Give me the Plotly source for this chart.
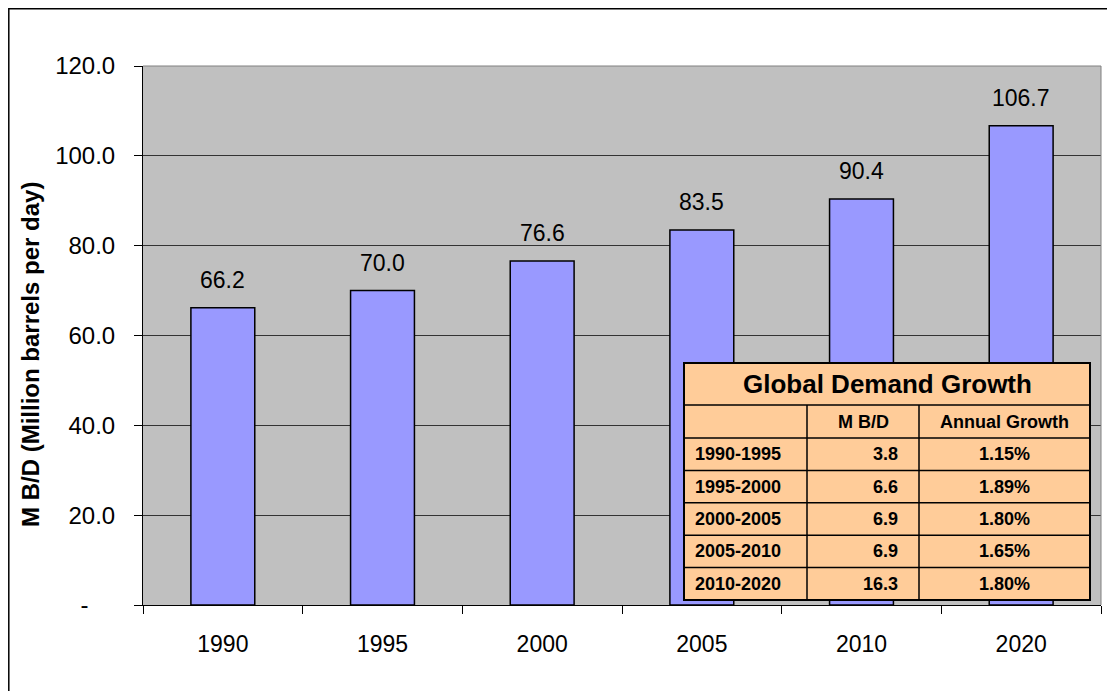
import plotly.graph_objects as go

# dados do gráfico
anos = ["1990", "1995", "2000", "2005", "2010", "2020"]
demanda = [66.2, 70.0, 76.6, 83.5, 90.4, 106.7]

# dados da tabela
titulo_tabela = "Global Demand Growth"
cabecalho = ["", "M B/D", "Annual Growth"]
periodos = ["1990-1995", "1995-2000", "2000-2005", "2005-2010", "2010-2020"]
mbd = [3.8, 6.6, 6.9, 6.9, 16.3]
crescimento = [1.15, 1.89, 1.80, 1.65, 1.80]

y_ticks = [0, 20, 40, 60, 80, 100, 120]
# zero aparece como "-" (formato contábil), deslocado para a esquerda
y_ticktext = ["-" + "\u00a0" * 4 if v == 0 else f"{v:.1f}" for v in y_ticks]

FONTE = "Arial, 'Liberation Sans', sans-serif"

# tamanho da janela e área do gráfico (pixels da página)
W, H = 1115, 691
OFF = 8  # margem padrão do <body>
L, R, T, B = 143, 1101, 66, 605


def px(x):
    return (x - L) / (R - L)


def py(y):
    return (B - y) / (B - T)


fig = go.Figure(go.Bar(
    x=anos, y=demanda,
    marker=dict(color="#9999FF", line=dict(color="black", width=1.5)),
    hoverinfo="x+y"
))

anots = []
shapes = []

# rótulos sobre as barras (x como índice da categoria)
for i, v in enumerate(demanda):
    anots.append(dict(x=i, y=v, xref="x", yref="y", text=f"{v:.1f}", showarrow=False,
                      xanchor="center", yanchor="middle", yshift=28,
                      font=dict(size=23, color="black", family=FONTE)))

# título do eixo y
anots.append(dict(x=px(30), y=py(355), xref="paper", yref="paper", text="<b>M B/D (Million barrels per day)</b>",
                  textangle=-90, showarrow=False, xanchor="center", yanchor="middle",
                  font=dict(size=24, color="black", family=FONTE)))

# bordas cinzas (topo e direita) da área do gráfico
shapes.append(dict(type="line", xref="paper", yref="paper", x0=0, x1=1, y0=1, y1=1,
                   line=dict(color="#808080", width=1)))
shapes.append(dict(type="line", xref="paper", yref="paper", x0=1, x1=1, y0=0, y1=1,
                   line=dict(color="#808080", width=1)))

# moldura externa
shapes.append(dict(type="rect", xref="paper", yref="paper", x0=px(OFF + 0.8), x1=px(W + 10), y0=py(H + 10),
                   y1=py(OFF + 0.8), line=dict(color="black", width=1.5)))

# tabela
cols = [684, 807, 919, 1090]
linhas = [363, 405, 438]
alt = (600 - 438) / len(periodos)
for i in range(len(periodos)):
    linhas.append(438 + alt * (i + 1))

shapes.append(dict(type="rect", xref="paper", yref="paper", x0=px(cols[0]), x1=px(cols[-1]),
                   y0=py(linhas[-1]), y1=py(linhas[0]), fillcolor="#FFCC99",
                   line=dict(color="black", width=2)))
for yl in linhas[1:-1]:
    shapes.append(dict(type="line", xref="paper", yref="paper", x0=px(cols[0]), x1=px(cols[-1]),
                       y0=py(yl), y1=py(yl), line=dict(color="black", width=1.5)))
for xc in cols[1:-1]:
    shapes.append(dict(type="line", xref="paper", yref="paper", x0=px(xc), x1=px(xc),
                       y0=py(linhas[-1]), y1=py(linhas[1]), line=dict(color="black", width=1.5)))

anots.append(dict(x=px((cols[0] + cols[-1]) / 2), y=py((linhas[0] + linhas[1]) / 2), xref="paper", yref="paper",
                  text=f"<b>{titulo_tabela}</b>", showarrow=False, xanchor="center", yanchor="middle",
                  font=dict(size=26, color="black", family=FONTE)))
for j, h in enumerate(cabecalho):
    if h:
        anots.append(dict(x=px((cols[j] + cols[j + 1]) / 2), y=py((linhas[1] + linhas[2]) / 2),
                          xref="paper", yref="paper", text=f"<b>{h}</b>", showarrow=False,
                          xanchor="center", yanchor="middle",
                          font=dict(size=18, color="black", family=FONTE)))

for i, (p, m, c) in enumerate(zip(periodos, mbd, crescimento)):
    ym = py((linhas[i + 2] + linhas[i + 3]) / 2)
    f = dict(size=18, color="black", family=FONTE)
    anots.append(dict(x=px(cols[0] + 9), y=ym, xref="paper", yref="paper", text=f"<b>{p}</b>",
                      showarrow=False, xanchor="left", yanchor="middle", font=f))
    anots.append(dict(x=px(cols[2] - 19), y=ym, xref="paper", yref="paper", text=f"<b>{m:.1f}</b>",
                      showarrow=False, xanchor="right", yanchor="middle", font=f))
    anots.append(dict(x=px((cols[2] + cols[3]) / 2), y=ym, xref="paper", yref="paper", text=f"<b>{c:.2f}%</b>",
                      showarrow=False, xanchor="center", yanchor="middle", font=f))

fig.update_layout(
    width=W - OFF, height=H - OFF,
    margin=dict(l=L - OFF, r=W - R, t=T - OFF, b=H - B, autoexpand=False),
    paper_bgcolor="white",
    plot_bgcolor="#C0C0C0",
    bargap=0.6,
    showlegend=False,
    font=dict(family=FONTE, color="black"),
    annotations=anots,
    shapes=shapes,
    xaxis=dict(
        type="category", showline=True, linecolor="black", linewidth=1,
        ticks="outside", tickson="boundaries", ticklen=8, tickcolor="black",
        tickfont=dict(size=23), ticklabelstandoff=18, tickangle=0, showgrid=False
    ),
    yaxis=dict(
        range=[0, 120], tickvals=y_ticks, ticktext=y_ticktext,
        showline=True, linecolor="black", linewidth=1,
        ticks="outside", ticklen=8, tickcolor="black",
        gridcolor="#333333", gridwidth=1, zeroline=False,
        tickfont=dict(size=24), ticklabelstandoff=14
    )
)

fig.write_html("out.html")
